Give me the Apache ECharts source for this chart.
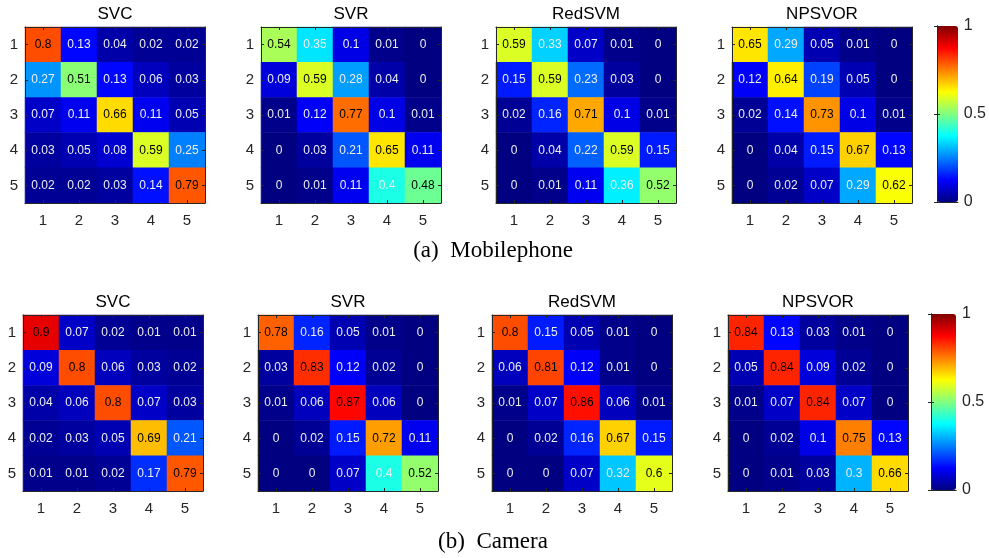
<!DOCTYPE html>
<html>
<head>
<meta charset="utf-8">
<script src="https://cdn.jsdelivr.net/npm/echarts@6/dist/echarts.min.js"></script>
<style>html,body{margin:0;padding:0;background:#fff;}#c{width:989px;height:558px;}</style>
</head>
<body>
<div id="c"></div>
<script>
const cats = ['1', '2', '3', '4', '5'];
const methods = ['SVC', 'SVR', 'RedSVM', 'NPSVOR'];
const captions = ['(a)  Mobilephone', '(b)  Camera'];
const cbTicks = [0, 0.5, 1];

const mobSVC = [[0.8,0.13,0.04,0.02,0.02],[0.27,0.51,0.13,0.06,0.03],[0.07,0.11,0.66,0.11,0.05],[0.03,0.05,0.08,0.59,0.25],[0.02,0.02,0.03,0.14,0.79]];
const mobSVR = [[0.54,0.35,0.1,0.01,0],[0.09,0.59,0.28,0.04,0],[0.01,0.12,0.77,0.1,0.01],[0,0.03,0.21,0.65,0.11],[0,0.01,0.11,0.4,0.48]];
const mobRedSVM = [[0.59,0.33,0.07,0.01,0],[0.15,0.59,0.23,0.03,0],[0.02,0.16,0.71,0.1,0.01],[0,0.04,0.22,0.59,0.15],[0,0.01,0.11,0.36,0.52]];
const mobNPSVOR = [[0.65,0.29,0.05,0.01,0],[0.12,0.64,0.19,0.05,0],[0.02,0.14,0.73,0.1,0.01],[0,0.04,0.15,0.67,0.13],[0,0.02,0.07,0.29,0.62]];
const camSVC = [[0.9,0.07,0.02,0.01,0.01],[0.09,0.8,0.06,0.03,0.02],[0.04,0.06,0.8,0.07,0.03],[0.02,0.03,0.05,0.69,0.21],[0.01,0.01,0.02,0.17,0.79]];
const camSVR = [[0.78,0.16,0.05,0.01,0],[0.03,0.83,0.12,0.02,0],[0.01,0.06,0.87,0.06,0],[0,0.02,0.15,0.72,0.11],[0,0,0.07,0.4,0.52]];
const camRedSVM = [[0.8,0.15,0.05,0.01,0],[0.06,0.81,0.12,0.01,0],[0.01,0.07,0.86,0.06,0.01],[0,0.02,0.16,0.67,0.15],[0,0,0.07,0.32,0.6]];
const camNPSVOR = [[0.84,0.13,0.03,0.01,0],[0.05,0.84,0.09,0.02,0],[0.01,0.07,0.84,0.07,0],[0,0.02,0.1,0.75,0.13],[0,0.01,0.03,0.3,0.66]];

const matrices = [mobSVC, mobSVR, mobRedSVM, mobNPSVOR, camSVC, camSVR, camRedSVM, camNPSVOR];

const jet = ['#000080','#0000ff','#0080ff','#00ffff','#80ff80','#ffff00','#ff8000','#ff0000','#800000'];
const axisColor = '#262626';
const sans = 'Liberation Sans, Arial, sans-serif';

// layout
const rowTop = [27, 315];
const gridH = 176;
const gridW = 180;
const rowLefts = [[25, 261, 496, 732], [23, 258, 492, 728]];
const cbLeft = [937, 931];
const cbW = [21, 25];
const cbTop = [26, 314];
const cbH = 176;

const grids = [], xAxes = [], yAxes = [], series = [], titles = [], visualMaps = [];

function catAxisX(gi, pos, showLabel) {
  return {
    type: 'category', data: cats, gridIndex: gi, position: pos,
    axisLine: { show: true, lineStyle: { color: axisColor, width: 1 } },
    axisTick: { show: true, inside: true, alignWithLabel: true, length: 3, lineStyle: { color: axisColor } },
    axisLabel: { show: showLabel, color: axisColor, fontSize: 15, margin: 10, fontFamily: sans },
    splitLine: { show: false }, z: 10
  };
}
function catAxisY(gi, pos, showLabel) {
  return {
    type: 'category', data: cats, gridIndex: gi, position: pos, inverse: true,
    axisLine: { show: true, lineStyle: { color: axisColor, width: 1 } },
    axisTick: { show: true, inside: true, alignWithLabel: true, length: 3, lineStyle: { color: axisColor } },
    axisLabel: { show: showLabel, color: axisColor, fontSize: 15, margin: 7, fontFamily: sans },
    splitLine: { show: false }, z: 10
  };
}

for (let r = 0; r < 2; r++) {
  for (let m = 0; m < 4; m++) {
    const gi = r * 4 + m;
    const left = rowLefts[r][m];
    grids.push({ left: left, top: rowTop[r], width: gridW, height: gridH, containLabel: false });
    xAxes.push(catAxisX(gi, 'bottom', true));
    xAxes.push(catAxisX(gi, 'top', false));
    yAxes.push(catAxisY(gi, 'left', true));
    yAxes.push(catAxisY(gi, 'right', false));
    const mat = matrices[gi];
    const data = [];
    for (let i = 0; i < 5; i++) {
      for (let j = 0; j < 5; j++) {
        const v = mat[i][j];
        data.push({ value: [j, i, v], label: { color: v >= 0.45 ? '#000000' : '#eeeeee' } });
      }
    }
    series.push({
      type: 'heatmap', xAxisIndex: gi * 2, yAxisIndex: gi * 2, data: data,
      itemStyle: { borderWidth: 0 },
      label: { show: true, fontSize: 12, fontFamily: sans,
        formatter: p => String(p.value[2]) },
      emphasis: { disabled: true }
    });
    titles.push({
      text: methods[m], left: left + gridW / 2, top: rowTop[r] - 21, textAlign: 'center', padding: 0,
      textStyle: { fontSize: 17, fontWeight: 'normal', color: '#000', fontFamily: sans }
    });
  }
}

// colorbars
for (let r = 0; r < 2; r++) {
  const gi = 8 + r;
  grids.push({ left: cbLeft[r], top: cbTop[r], width: cbW[r], height: cbH });
  const vAxisCommon = {
    type: 'value', gridIndex: gi, min: 0, max: 1, interval: 0.5,
    splitLine: { show: false }, z: 10,
    axisLine: { show: true, lineStyle: { color: axisColor, width: 1 } }
  };
  xAxes.push(Object.assign({}, vAxisCommon, { position: 'bottom', axisTick: { show: false }, axisLabel: { show: false } }));
  xAxes.push(Object.assign({}, vAxisCommon, { position: 'top', axisTick: { show: false }, axisLabel: { show: false } }));
  yAxes.push(Object.assign({}, vAxisCommon, { position: 'left', axisTick: { show: true, inside: true, length: 3, lineStyle: { color: axisColor } }, axisLabel: { show: false } }));
  yAxes.push(Object.assign({}, vAxisCommon, { position: 'right',
    axisTick: { show: true, inside: true, length: 3, lineStyle: { color: axisColor } },
    axisLabel: { show: true, color: axisColor, fontSize: 16, margin: 6, fontFamily: sans,
      formatter: v => cbTicks.indexOf(v) >= 0 ? String(v) : '' } }));
  visualMaps.push({
    type: 'continuous', min: 0, max: 1, seriesIndex: [r * 4, r * 4 + 1, r * 4 + 2, r * 4 + 3],
    orient: 'vertical', left: cbLeft[r], top: cbTop[r], itemWidth: cbW[r], itemHeight: cbH,
    padding: 0, calculable: false, text: null, showLabel: false, hoverLink: false,
    inRange: { color: jet }
  });
  titles.push({
    text: captions[r], left: 493, top: r === 0 ? 239 : 530, textAlign: 'center', padding: 0,
    textStyle: { fontSize: 23, fontWeight: 'normal', color: '#000', fontFamily: 'Liberation Serif, Times New Roman, serif' }
  });
}

const chart = echarts.init(document.getElementById('c'), null, { renderer: 'canvas' });
chart.setOption({
  backgroundColor: '#ffffff',
  animation: false,
  title: titles,
  grid: grids,
  xAxis: xAxes,
  yAxis: yAxes,
  visualMap: visualMaps,
  series: series
});
</script>
</body>
</html>
